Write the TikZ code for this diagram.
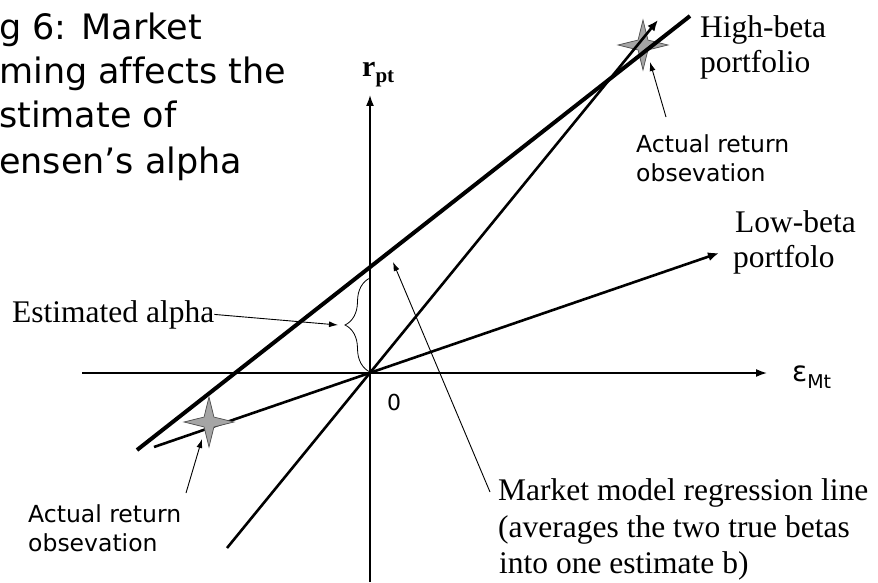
\documentclass[tikz,border=0pt]{standalone}
\usepackage{fontspec}
\setmainfont{Liberation Serif}
\newfontfamily\sansf[Ligatures=NoCommon]{DejaVu Sans}
\usetikzlibrary{arrows.meta,decorations.pathreplacing}
\begin{document}
\begin{tikzpicture}[x=1pt,y=-1pt,
  serif/.style={font=\fontsize{31.5}{35}\selectfont, anchor=base west, inner sep=0pt},
  sanslab/.style={font=\sansf\fontsize{23.5}{28}\selectfont, anchor=base west, inner sep=0pt},
  titletxt/.style={font=\sansf\fontsize{35}{44}\selectfont, anchor=base west, inner sep=0pt},
  axisline/.style={line width=1.6pt, -{Latex[length=11pt,width=8pt]}},
  portline/.style={line width=2.6pt, -{Latex[length=11pt,width=9pt]}},
  regline/.style={line width=4pt},
  pointer/.style={line width=0.9pt, -{Latex[length=9pt,width=6pt]}},
  starstyle/.style={fill={rgb,255:red,165;green,165;blue,165}, draw=black!70, line width=0.7pt},
  sparkle/.pic={\path[starstyle] (0:25) -- (45:7) -- (90:25) -- (135:7) -- (180:25) -- (225:7) -- (270:25) -- (315:7) -- cycle;}
]
\useasboundingbox (0,0) rectangle (878,583);

% axes
\coordinate (O) at (370,373);
\coordinate (xL) at (82,373);
\coordinate (xR) at (767,373);
\coordinate (yB) at (370,582);
\coordinate (yT) at (370,95);
\draw[axisline] (xL) -- (xR);
\draw[axisline] (yB) -- (yT);

% upper star
\coordinate (sH) at (643,45);
\pic at (sH) {sparkle};

% lines
\coordinate (lbS) at (154,447);
\coordinate (lbE) at (719,253);
\coordinate (hbS) at (227,548);
\coordinate (hbE) at (658,20);
\coordinate (rgS) at (137,450);
\coordinate (rgE) at (690,16);
\draw[portline] (lbS) -- (lbE);
\draw[portline] (hbS) -- (hbE);
\draw[regline] (rgS) -- (rgE);

% lower star
\coordinate (sL) at (209,422);
\pic at (sL) {sparkle};

% brace
\coordinate (brB) at (370,372);
\coordinate (brT) at (370,278);
\draw[line width=0.8pt, decorate, decoration={brace, amplitude=25pt}] (brB) -- (brT);

% title
\node[titletxt] (t1) at (-1,40) {g 6: Market};
\node[titletxt] (t2) at (-1,84) {ming affects the};
\node[titletxt] (t3) at (-1,128) {stimate of};
\node[titletxt] (t4) at (-1,173) {ensen’s alpha};

% axis labels
\node[anchor=base west, inner sep=0pt] (rpt) at (362,77) {\fontsize{30}{30}\selectfont\bfseries r\raisebox{-6pt}{\fontsize{21}{21}\selectfont pt}};
\node[anchor=base west, inner sep=0pt] (eps) at (792,381) {\sansf\fontsize{28}{28}\selectfont ε\raisebox{-7pt}{\fontsize{19}{19}\selectfont Mt}};
\node[anchor=base west, inner sep=0pt, font=\sansf\fontsize{22}{22}\selectfont] (zero) at (387,410) {0};

% serif labels
\node[serif] (hb1) at (700,38) {High-beta};
\node[serif] (hb2) at (700,73) {portfolio};
\node[serif] (lb1) at (735,232) {Low-beta};
\node[serif] (lb2) at (733,267) {portfolo};
\node[serif] (ea) at (12,322) {Estimated alpha};
\node[serif] (mm1) at (498,500) {Market model regression line};
\node[serif] (mm2) at (498,537) {(averages the two true betas};
\node[serif] (mm3) at (499,573) {into one estimate b)};

% sans labels
\node[sanslab] (ar1) at (636,153) {Actual return};
\node[sanslab] (ar2) at (636,182) {obsevation};
\node[sanslab] (al1) at (28,522) {Actual return};
\node[sanslab] (al2) at (28,551) {obsevation};

% pointers
\coordinate (eaT) at (338,325);
\draw[pointer] (ea.east) -- (eaT);
\coordinate (mmS) at (490,492);
\coordinate (mmT) at (393,262);
\draw[pointer] (mmS) -- (mmT);
\coordinate (arS1) at (666,117);
\coordinate (arT1) at (650,62);
\draw[pointer] (arS1) -- (arT1);
\coordinate (arS2) at (186,493);
\coordinate (arT2) at (202,439);
\draw[pointer] (arS2) -- (arT2);
\end{tikzpicture}
\end{document}
